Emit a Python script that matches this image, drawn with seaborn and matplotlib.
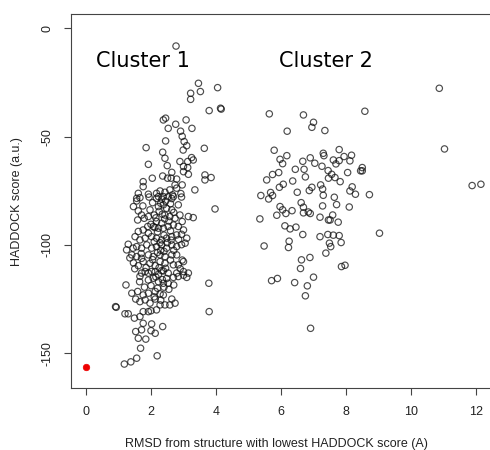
import pandas as pd
import matplotlib
matplotlib.use("Agg")
import matplotlib.pyplot as plt
import seaborn as sns

# cluster 1
c1_rmsd = [2.77, 3.46, 3.22, 3.22, 3.52, 4.05, 3.79, 4.14, 4.16, 2.38, 2.45, 3.08, 2.76, 2.53, 3.26,
           2.91, 2.96, 3.02, 3.10, 2.99, 2.45, 1.85, 3.64, 2.36, 2.43, 2.50, 1.92, 2.89, 3.13, 3.25,
           3.30, 3.00, 3.13, 3.00, 3.15, 3.66, 3.85, 3.66, 2.64, 2.36, 2.51, 2.04, 2.62, 2.79, 2.74,
           2.79, 2.96, 1.76, 1.76, 1.61, 1.56, 1.92, 2.17, 2.28, 2.43, 2.58, 2.66, 2.92, 3.35, 2.23,
           2.38, 2.53, 2.69,
           1.46, 1.56, 1.66, 1.94, 2.17, 2.33, 2.64, 2.94, 3.97, 3.15, 3.30, 2.96, 1.61, 1.71, 1.59,
           1.79, 1.97, 1.92, 2.10, 2.23, 2.38, 2.48, 2.64, 2.84, 2.43, 2.58, 2.74, 2.89, 2.17, 2.33,
           2.07, 2.23, 2.38, 2.53, 2.69, 2.84, 3.00, 1.61, 1.76, 1.92, 1.51, 1.66, 1.82, 2.02, 2.17,
           2.33, 2.48, 2.64, 2.79, 2.94, 3.10, 3.05, 1.30, 1.25, 1.56, 1.71, 1.87, 2.02, 2.17, 2.33,
           2.48, 2.64, 2.79, 2.94, 1.41, 1.56, 1.71, 1.92, 2.07, 2.28, 2.43, 2.64, 2.79, 2.96, 2.69,
           2.84, 3.00, 1.46, 1.61, 1.76, 1.97, 2.13, 2.28, 2.43, 1.71, 1.92, 2.13, 2.33, 2.53, 2.79,
           3.00, 3.15,
           1.66, 1.82, 2.02, 2.23, 2.38, 2.69, 2.84, 3.00, 3.10, 3.78, 1.23, 1.92, 2.07, 2.23, 2.38,
           2.53, 1.41, 1.59, 1.76, 1.92, 2.13, 2.28, 2.38, 1.53, 1.66, 1.82, 1.97, 2.13, 2.28, 2.43,
           2.58, 2.64, 2.74, 0.91, 0.93, 1.20, 1.30, 1.49, 1.66, 1.76, 1.92, 2.00, 2.17, 3.79, 1.53,
           1.71, 1.76, 2.02, 2.00, 2.13, 2.36, 1.61, 1.84, 1.68, 2.19, 1.18, 1.38, 1.56,
           # dense core, estimated
           2.05, 2.25, 2.45, 2.15, 2.35, 2.55, 2.00, 2.20, 2.40, 2.60, 2.10, 2.30, 2.50, 2.20, 2.40,
           2.05, 2.25, 2.45, 2.15, 2.35, 2.00, 2.20, 2.40, 2.10, 2.30, 1.85, 1.80, 1.65, 1.50, 1.45,
           1.35, 1.70, 1.90, 1.75, 2.60, 2.70, 2.85, 2.70, 2.60, 2.55, 2.70, 2.90, 2.48, 2.28, 2.12,
           2.42, 2.30, 2.62]
c1_score = [-8.2, -25.4, -30.0, -32.8, -29.2, -27.4, -38.0, -36.9, -37.3, -42.3, -41.5, -42.3, -44.3, -46.2, -46.2,
            -47.5, -49.9, -52.3, -54.2, -56.2, -52.0, -55.1, -55.4, -57.2, -60.0, -63.4, -62.8, -61.5, -61.5, -59.7,
            -60.8, -63.8, -64.3, -66.2, -67.4, -67.7, -68.9, -70.0, -66.5, -68.2, -69.2, -69.2, -69.2, -69.6, -72.3,
            -73.8, -72.3, -70.8, -73.1, -76.2, -78.5, -76.6, -76.2, -75.1, -75.7, -74.6, -76.9, -76.3, -74.6, -77.7,
            -77.7, -77.7, -77.7,
            -82.3, -79.7, -78.2, -77.9, -78.5, -78.9, -78.6, -77.9, -83.4, -86.9, -87.4, -89.2, -84.3, -86.2, -88.5,
            -87.7, -83.8, -86.9, -86.2, -82.3, -81.5, -83.1, -83.8, -81.5, -86.2, -86.9, -87.7, -86.2, -89.2, -90.0,
            -91.5, -92.3, -92.3, -91.5, -90.8, -91.5, -93.1, -93.8, -93.1, -94.6, -96.2, -97.7, -96.9, -96.2, -96.9,
            -97.7, -96.9, -96.2, -95.4, -95.1, -96.9, -99.2, -99.7, -102.3, -100.8, -101.5, -100.0, -101.5, -100.8, -100.0,
            -101.5, -100.0, -100.8, -99.9, -104.6, -105.4, -106.2, -104.6, -105.4, -104.6, -105.4, -104.6, -104.6, -107.0, -109.2,
            -109.2, -107.7, -108.3, -109.6, -107.7, -108.5, -109.6, -107.7, -108.5, -113.0, -113.0, -112.3, -111.9, -113.0, -113.0,
            -112.3, -113.0,
            -114.5, -112.3, -112.3, -113.6, -112.0, -115.0, -114.6, -114.0, -115.0, -117.7, -118.5, -116.2, -115.4, -117.0, -117.7,
            -117.7, -122.3, -121.5, -123.1, -122.3, -121.5, -122.6, -123.1, -125.0, -126.2, -125.4, -126.9, -125.0, -127.7, -127.7,
            -127.7, -125.0, -126.9, -128.5, -128.8, -131.8, -131.8, -133.8, -133.1, -130.8, -130.8, -130.4, -130.0, -130.8, -140.0,
            -139.2, -136.2, -136.5, -139.6, -140.8, -137.7, -143.1, -143.5, -147.7, -151.2, -155.0, -154.0, -152.3,
            -80.5, -84.5, -79.8, -87.5, -85.8, -89.0, -90.5, -94.0, -95.5, -93.5, -98.5, -102.5, -99.0, -103.5, -103.0,
            -106.8, -110.5, -110.8, -114.8, -116.0, -118.8, -120.0, -119.5, -124.0, -125.5, -110.5, -119.5, -117.0, -111.0, -101.5,
            -106.0, -104.0, -91.5, -82.0, -81.0, -85.0, -97.5, -102.5, -107.0, -120.5, -118.5, -111.0, -115.5, -99.0, -92.0,
            -88.0, -80.8, -97.8]

# cluster 2 and the far points
c2_rmsd = [10.87, 11.03, 11.88, 12.15, 9.03, 8.58, 5.64, 6.69, 7.00, 6.95, 7.35, 6.19, 5.79, 5.97, 6.05,
           6.18, 6.67, 6.90, 7.04, 7.30, 7.32, 7.26, 7.79, 7.61, 7.69, 7.79, 7.94, 8.17, 8.12, 8.05,
           8.50, 8.50, 8.45, 8.19, 8.12, 8.29, 8.72, 8.10, 6.44, 6.71, 6.75, 7.45, 7.56, 7.46, 7.66,
           7.82, 5.93, 5.74, 5.56, 6.36, 6.07, 5.95, 6.95, 6.87, 7.22, 7.28, 6.50, 7.30, 5.38, 5.68,
           5.74, 5.62, 7.64, 7.71, 6.62, 6.69, 5.97, 6.05, 6.34, 5.87, 6.15, 6.69, 6.84, 6.90, 7.28,
           7.20, 7.46, 7.51, 7.59, 7.76, 5.35, 6.12, 6.28, 6.46, 6.67, 7.20, 7.44, 7.61, 7.79, 7.85,
           6.25, 6.23, 7.49, 7.53, 5.48, 7.38, 6.89, 6.63, 7.86, 7.97, 6.60, 7.00, 5.71, 5.89, 6.42,
           6.81, 6.75, 6.91]
c2_score = [-27.7, -55.7, -72.6, -72.0, -94.6, -38.3, -39.5, -40.0, -43.4, -45.7, -47.2, -47.5, -56.3, -60.5, -62.5,
            -58.8, -61.4, -59.8, -62.3, -57.7, -58.8, -63.7, -56.0, -60.8, -62.6, -61.1, -59.2, -58.6, -61.2, -66.6,
            -64.3, -65.8, -65.8, -73.2, -75.1, -76.6, -76.8, -82.5, -65.1, -65.1, -68.6, -65.7, -67.4, -69.2, -68.9,
            -70.8, -66.6, -67.5, -70.0, -70.5, -72.0, -73.4, -73.4, -74.9, -72.3, -74.2, -75.7, -77.1, -77.2, -75.8,
            -77.2, -78.8, -78.0, -81.4, -80.5, -82.6, -82.3, -83.8, -84.2, -86.3, -85.5, -85.2, -84.8, -85.5, -82.0,
            -87.2, -88.5, -88.5, -86.2, -89.5, -88.0, -91.2, -92.6, -91.8, -95.2, -96.2, -95.2, -95.5, -95.7, -98.9,
            -98.3, -101.2, -99.2, -100.8, -100.5, -103.8, -105.8, -106.9, -110.0, -109.4, -110.9, -114.9, -116.5, -115.5, -117.4,
            -118.9, -123.5, -138.5]

# reference structure
best_rmsd = [0.0]
best_score = [-156.3]

df = pd.DataFrame({"rmsd": c1_rmsd + c2_rmsd, "score": c1_score + c2_score})
best = pd.DataFrame({"rmsd": best_rmsd, "score": best_score})

sns.set_style("white")
plt.rcParams["font.family"] = ["Liberation Sans", "DejaVu Sans"]

fig = plt.figure(figsize=(4.9, 4.5), dpi=100)
ax = fig.add_axes([70.7 / 490, (450 - 388.3) / 450, 428.4 / 490, 374.3 / 450])

sns.scatterplot(x="rmsd", y="score", data=df, ax=ax, marker="o", s=21,
                facecolors="none", edgecolor="#111111", linewidth=0.85, alpha=0.75)
sns.scatterplot(x="rmsd", y="score", data=best, ax=ax, marker="o", s=22,
                color="#ee0000", edgecolor="#ee0000", linewidth=0.5)

ax.set_xlim(-0.47, 12.71)
ax.set_ylim(-166.2, 6.6)
ax.set_xticks([0, 2, 4, 6, 8, 10, 12])
ax.set_yticks([-150, -100, -50, 0])
ax.set_yticklabels(["-150", "-100", "-50", "0"], rotation=90, va="center")
ax.tick_params(direction="out", length=5, width=0.8, color="#444444",
               labelsize=9, labelcolor="#222222", pad=7.5, bottom=True, left=True)
for sp in ax.spines.values():
    sp.set_color("#444444")
    sp.set_linewidth(0.8)

ax.set_xlabel("")
ax.set_ylabel("")
fig.text(276.3 / 490, 1 - 444.3 / 450, "RMSD from structure with lowest HADDOCK score (A)",
         ha="center", va="center", fontsize=9, color="#222222")
fig.text(17.3 / 490, 1 - 201.7 / 450, "HADDOCK score (a.u.)", rotation=90,
         ha="center", va="center", fontsize=9, color="#222222")

ax.text(0.30, -15, "Cluster 1", ha="left", va="center", fontsize=15,
        family="DejaVu Sans", color="black")
ax.text(5.95, -15, "Cluster 2", ha="left", va="center", fontsize=15,
        family="DejaVu Sans", color="black")

fig.savefig("out.png", dpi=100)
